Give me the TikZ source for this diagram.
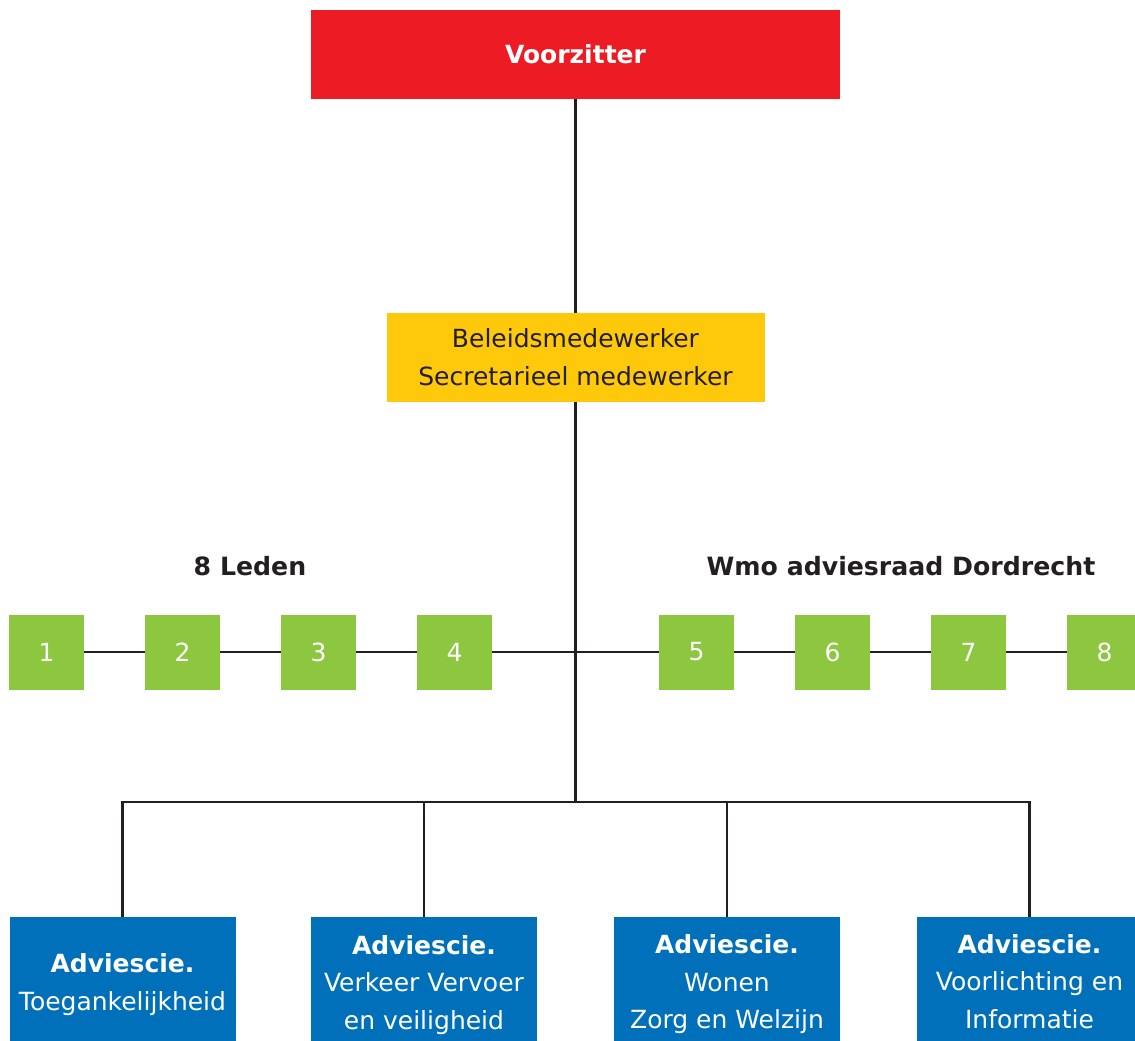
\documentclass[tikz,border=0pt]{standalone}
\usepackage{fontspec}
\setmainfont{DejaVu Sans}
\definecolor{rd}{HTML}{ED1C24}
\definecolor{yl}{HTML}{FFC90B}
\definecolor{gr}{HTML}{8DC63F}
\definecolor{bl}{HTML}{0070BA}
\definecolor{tx}{HTML}{231F20}
\tikzset{
  base/.style={inner sep=0pt, align=center, font=\fontsize{25}{38}\selectfont},
  redbox/.style={base, fill=rd, text=white, minimum width=529pt, minimum height=89pt, font=\fontsize{25}{38}\selectfont\bfseries},
  yellowbox/.style={base, fill=yl, text=tx, minimum width=378pt, minimum height=89pt},
  greenbox/.style={base, fill=gr, text=white, minimum width=75pt, minimum height=75pt},
  bluebox/.style={base, fill=bl, minimum width=226pt, minimum height=124pt},
  bluetext/.style={base, text=white, font=\fontsize{25}{37.5}\selectfont},
  heading/.style={base, text=tx, font=\fontsize{25.2}{38}\selectfont\bfseries},
  conn/.style={draw=tx, line width=2.5pt}
}
\begin{document}
\begin{tikzpicture}[x=1pt,y=-1pt]
\useasboundingbox (0,0) rectangle (1135,1041);
\clip (0,0) rectangle (1135,1041);
\node[redbox] (vz) at (575.5,54.5) {Voorzitter};
\node[yellowbox] (bm) at (575.5,357.5) {Beleidsmedewerker\\Secretarieel medewerker};
\node[heading] (hl) at (250,566) {8 Leden};
\node[heading] (hr) at (901,566) {Wmo adviesraad Dordrecht};
\foreach \i/\x in {1/46.5,2/182.5,3/318.5,4/454.5,5/696.5,6/832.5,7/968.5,8/1104.5}
  \node[greenbox] (g\i) at (\x,652) {\i};
\node[bluebox] (b1) at (122.5,979) {};
\node[bluebox] (b2) at (424,979) {};
\node[bluebox] (b3) at (727,979) {};
\node[bluebox] (b4) at (1029.5,979) {};
\node[bluetext] (t1) at ([yshift=-5.5pt]b1.center) {\textbf{Adviescie.}\\Toegankelijkheid};
\node[bluetext] (t2) at ([yshift=-6pt]b2.center) {\textbf{Adviescie.}\\Verkeer Vervoer\\en veiligheid};
\node[bluetext] (t3) at ([yshift=-5.5pt]b3.center) {\textbf{Adviescie.}\\Wonen\\Zorg en Welzijn};
\node[bluetext] (t4) at ([yshift=-2.5pt]b4.center) {\textbf{Adviescie.}\\Voorlichting en\\Informatie};
\coordinate (bus) at (575.5,802);
\begin{scope}[on background layer/.try]
\draw[conn] (vz.south) -- (bm.north);
\draw[conn] (bm.south) -- (bus);
\draw[conn] (g1) -- (g2);
\draw[conn] (g2) -- (g3);
\draw[conn] (g3) -- (g4);
\draw[conn] (g4) -- (g5);
\draw[conn] (g5) -- (g6);
\draw[conn] (g6) -- (g7);
\draw[conn] (g7) -- (g8);
\draw[conn] (bus) -| (b1.north);
\draw[conn] (bus) -| (b2.north);
\draw[conn] (bus) -| (b3.north);
\draw[conn] (bus) -| (b4.north);
\end{scope}
\end{tikzpicture}
\end{document}
